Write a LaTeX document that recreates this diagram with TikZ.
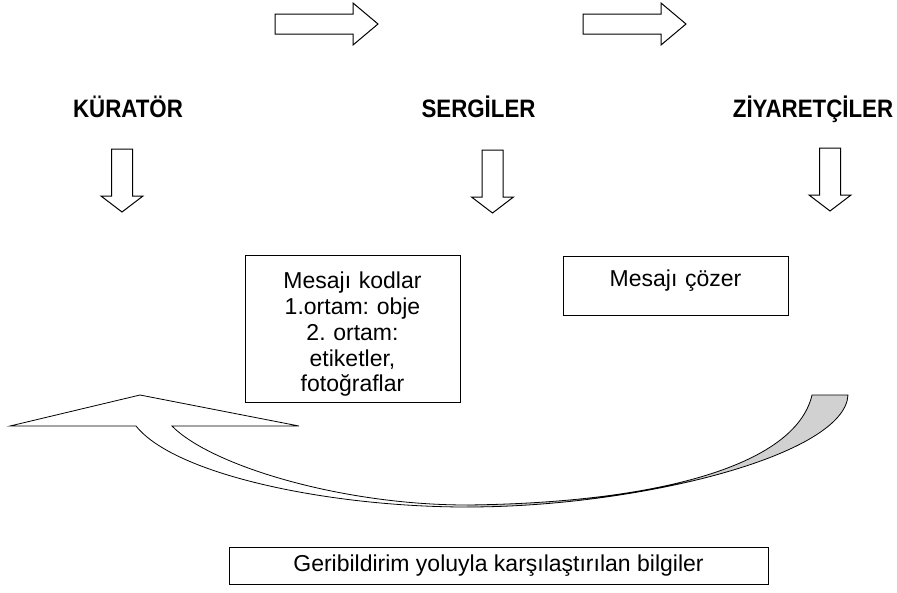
\documentclass[tikz,border=0pt]{standalone}
\usepackage{fontspec}
\setmainfont{Liberation Sans}
\newcommand\tall[1]{\scalebox{1}[1.13]{#1}}
\tikzset{
   blk/.style={draw,line width=1pt,fill=white,line join=miter},
   rarrow/.pic={\draw[blk] (0,-10) -- (78,-10) -- (78,-21) -- (103,0)
      -- (78,21) -- (78,10) -- (0,10) -- cycle;},
   darrow/.pic={\draw[blk] (-10.5,0) -- (10.5,0) -- (10.5,47) -- (21,47)
      -- (0,63) -- (-21,47) -- (-10.5,47) -- cycle;},
 }

\begin{document}
\frenchspacing
\begin{tikzpicture}[
      x=1pt,y=-1pt,
      head/.style={font=\bfseries\fontsize{22.3}{26}\selectfont,anchor=base,inner sep=0},
      box/.style={draw,line width=1pt,inner sep=0,align=center,
        font=\fontsize{23}{25.9}\selectfont},
      band/.style={draw,line width=0.8pt,line join=miter},
      back/.style={fill=black!18},
      ]
      \useasboundingbox (0,0) rectangle (897,592);

      \node (kur) at (128,117) [head] {\tall{KÜRATÖR}};
      \node (ser) at (478.5,117) [head] {\tall{SERGİLER}};
      \node (ziy) at (813,117) [head] {\tall{ZİYARETÇİLER}};

      \pic at (275,24) {rarrow};
      \pic at (583,24) {rarrow};
      \pic at (122,149) {darrow};
      \pic at (492.5,150) {darrow};
      \pic at (830,148) {darrow};

      \node (kod) at (352.5,328.5) [box,text width=215pt,minimum height=147pt]
        {\rule{0pt}{28pt}Mesajı kodlar\\1.ortam: obje\\2. ortam:\\etiketler,\\fotoğraflar};
      \node (coz) at (675.5,285.5) [box,text width=225pt,minimum height=59pt,
        text depth=15pt] {Mesajı çözer};
      \node (geri) at (498.5,565.5) [box,minimum width=539pt,minimum height=37pt]
        {Geribildirim yoluyla karşılaştırılan bilgiler};

      % curved feedback arrow
      \fill[back] (467,507) .. controls (640,507) and (845,455) .. (848,395)
        -- (812,395) .. controls (795,468) and (650,503) .. (467,505) -- cycle;
      \draw[band] (136,426) .. controls (175,475) and (330,507) .. (467,507)
        .. controls (640,507) and (845,455) .. (848,395)
        -- (812,395) .. controls (795,468) and (650,503) .. (467,505)
        .. controls (340,505) and (210,465) .. (172,426)
        -- (299,426) -- (140,395) -- (10,426) -- cycle;
  \end{tikzpicture}
\end{document}
